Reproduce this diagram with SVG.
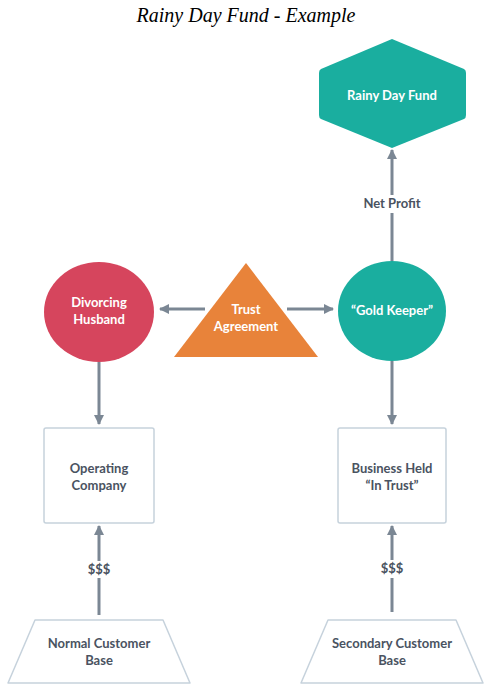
<svg xmlns="http://www.w3.org/2000/svg" width="486" height="692" viewBox="0 0 486 692">
<defs>
<style>
.t{font-family:Lato,"Open Sans","Liberation Sans",sans-serif;font-weight:bold;font-size:13px;text-anchor:middle}
.w{fill:#ffffff}
.d{fill:#4a5361}
.ln{stroke:#7b8794;stroke-width:3;fill:none}
.box{fill:#ffffff;stroke:#c6d2dc;stroke-width:1.5}
.title{font-family:"Liberation Serif","Times New Roman",serif;font-style:italic;font-size:20px;text-anchor:middle;fill:#000}
</style>
<marker id="ah" viewBox="0 0 10 10" refX="9" refY="5" markerWidth="3.4" markerHeight="3.4" orient="auto" markerUnits="strokeWidth">
<path d="M0,0 L10,5 L0,10 z" fill="#7b8794"/>
</marker>
</defs>
<rect width="486" height="692" fill="#ffffff"/>
<text class="title" x="246" y="22">Rainy Day Fund - Example</text>

<g id="connectors">
<path class="ln" d="M392,261 V213" />
<path class="ln" d="M392,195 V150" marker-end="url(#ah)"/>
<text class="t d" x="392" y="208">Net Profit</text>
<path class="ln" d="M205,309 H160" marker-end="url(#ah)"/>
<path class="ln" d="M287,309 H333" marker-end="url(#ah)"/>
<path class="ln" d="M99,362 V424" marker-end="url(#ah)"/>
<path class="ln" d="M392,361 V424" marker-end="url(#ah)"/>
<path class="ln" d="M99,615 V578"/>
<path class="ln" d="M99,561 V526" marker-end="url(#ah)"/>
<text class="t d" x="99" y="574">$$$</text>
<path class="ln" d="M392,612 V578"/>
<path class="ln" d="M392,560 V526" marker-end="url(#ah)"/>
<text class="t d" x="392" y="573">$$$</text>
</g>

<g id="rainy-day-fund">
<path d="M392,39 L464,69 Q466,70 466,73 L466,115 Q466,118 464,119 L392,148 L321,119 Q319,118 319,115 L319,73 Q319,70 321,69 Z" fill="#1aae9f"/>
<text class="t w" x="392" y="100">Rainy Day Fund</text>
</g>

<g id="gold-keeper">
<ellipse cx="392" cy="311" rx="54" ry="50" fill="#1aae9f"/>
<text class="t w" x="392" y="315">“Gold Keeper”</text>
</g>

<g id="divorcing-husband">
<ellipse cx="99" cy="312" rx="55" ry="50" fill="#d6455d"/>
<text class="t w" x="99" y="307">Divorcing</text>
<text class="t w" x="99" y="324">Husband</text>
</g>

<g id="trust-agreement">
<path d="M246,263 L318,357 L174,357 Z" fill="#e8833a"/>
<text class="t w" x="246" y="314">Trust</text>
<text class="t w" x="246" y="331">Agreement</text>
</g>

<g id="operating-company">
<rect class="box" x="44" y="428" width="110" height="95" rx="2"/>
<text class="t d" x="99" y="473">Operating</text>
<text class="t d" x="99" y="490">Company</text>
</g>

<g id="business-held">
<rect class="box" x="338" y="428" width="108" height="95" rx="2"/>
<text class="t d" x="392" y="473">Business Held</text>
<text class="t d" x="392" y="490">“In Trust”</text>
</g>

<g id="normal-customer-base">
<path class="box" d="M35,620 H163 L190,683 H8 Z" stroke-linejoin="round"/>
<text class="t d" x="99" y="648">Normal Customer</text>
<text class="t d" x="99" y="665">Base</text>
</g>

<g id="secondary-customer-base">
<path class="box" d="M328,620 H456 L483,683 H301 Z" stroke-linejoin="round"/>
<text class="t d" x="392" y="648">Secondary Customer</text>
<text class="t d" x="392" y="665">Base</text>
</g>
</svg>
